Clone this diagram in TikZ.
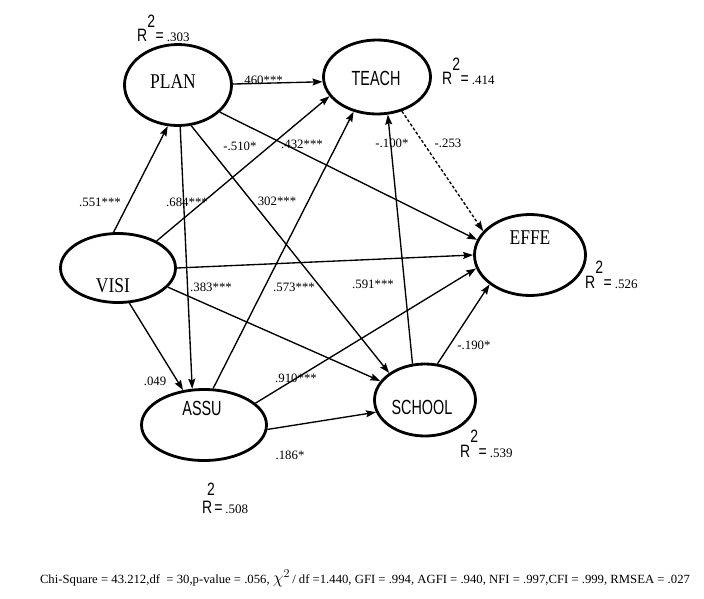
\documentclass[tikz,border=0pt]{standalone}
\usepackage{fontspec}
\usepackage{graphicx}
\setmainfont{Liberation Serif}
\newfontfamily\arialfont{Liberation Sans}
\usetikzlibrary{shapes.geometric,arrows.meta}
\newcommand{\sertext}[1]{\scalebox{1}[1.2]{\fontsize{17.5}{17.5}\selectfont #1}}
\newcommand{\santext}[1]{\scalebox{0.9}[1.28]{\arialfont\fontsize{16}{16}\selectfont #1}}
\newcommand{\myrsq}[1]{\scalebox{1}[1.28]{\arialfont\fontsize{14}{14}\selectfont R\raisebox{11.5pt}{2}\kern0.5pt=}\kern3pt{\fontsize{13}{14}\selectfont #1}}
\tikzset{
  lat/.style={ellipse, draw, line width=2.8pt, inner sep=0pt},
  edge/.style={line width=1.35pt, -{Stealth[length=10pt,width=7pt,inset=1.5pt]}},
  dashedge/.style={edge, dash pattern=on 3pt off 2pt},
  elab/.style={font=\fontsize{12.8}{14}\selectfont, inner sep=0pt},
  rlab/.style={anchor=base west, inner sep=0pt},
}
\begin{document}
\begin{tikzpicture}[x=1pt,y=-1pt]
\useasboundingbox[fill=white] (0,0) rectangle (704,599);

% latent variables
\node[lat, minimum width=107pt, minimum height=81pt,
      label={[xshift=-5pt,yshift=3pt]center:\sertext{PLAN}}] (plan) at (178,85) {};
\node[lat, minimum width=107pt, minimum height=74pt,
      label={[xshift=-1pt,yshift=-1pt]center:\santext{TEACH}}] (teach) at (377,77) {};
\node[lat, minimum width=111pt, minimum height=81pt,
      label={[yshift=17pt]center:\sertext{EFFE}}] (effe) at (530,255) {};
\node[lat, minimum width=115pt, minimum height=69pt,
      label={[xshift=-5pt,yshift=-18pt]center:\sertext{VISI}}] (visi) at (118,268) {};
\node[lat, minimum width=125pt, minimum height=71pt,
      label={[xshift=-2pt,yshift=17pt]center:\santext{ASSU}}] (assu) at (204,425) {};
\node[lat, minimum width=101pt, minimum height=72pt,
      label={[xshift=-3pt,yshift=-7pt]center:\santext{SCHOOL}}] (school) at (425,400) {};

% paths
\draw[edge] (visi.97) -- (plan.256);
\draw[edge] (plan.1) -- (teach.185);
\draw[edge] (plan.273) -- (assu.108);
\draw[edge] (visi.35) -- (teach.202);
\draw[edge] (plan.327.5) -- (effe.164);
\draw[edge] (plan.288) -- (school.143);
\draw[edge] (visi.0) -- (effe.180);
\draw[edge] (visi.339) -- (school.157);
\draw[edge] (visi.288) -- (assu.121);
\draw[edge] (assu.76) -- (teach.236);
\draw[edge] (assu.23.5) -- (effe.194);
\draw[edge] (assu.356) -- (school.194);
\draw[edge] (school.109) -- (teach.286);
\draw[edge] (school.71) -- (effe.216);
\draw[dashedge] (teach.306) -- (effe.153);

% coefficients
\node[elab] (l1) at (100,202) {.551***};
\node[elab] (l2) at (262,80) {.460***};
\node[elab] (l3) at (240,146) {-.510*};
\node[elab] (l4) at (302,144) {.432***};
\node[elab] (l5) at (187,202) {.684***};
\node[elab] (l6) at (277,201) {302***};
\node[elab] (l7) at (211,287) {.383***};
\node[elab] (l8) at (294,287) {.573***};
\node[elab] (l9) at (373,284) {.591***};
\node[elab] (l10) at (155,381) {.049};
\node[elab] (l11) at (296,378) {.910***};
\node[elab] (l12) at (290,455) {.186*};
\node[elab] (l13) at (392,143) {-.100*};
\node[elab] (l14) at (448,143) {-.253};
\node[elab] (l15) at (474,345) {-.190*};

% R squared
\node[rlab] (rplan) at (137,42) {\myrsq{.303}};
\node[rlab] (rteach) at (442,85) {\myrsq{.414}};
\node[rlab] (reffe) at (585,288) {\myrsq{.526}};
\node[rlab] (rschool) at (460,457) {\myrsq{.539}};
\node[rlab] (rassu) at (202,513) {\scalebox{1}[1.28]{\arialfont\fontsize{14}{14}\selectfont\rlap{\kern5pt\raisebox{13.5pt}{2}}R\kern2pt=}\kern3pt{\fontsize{13}{14}\selectfont .508}};

% fit indices
\node[inner sep=0pt] (fit) at (365,578) {\resizebox{650pt}{\height}{\fontsize{12.5}{14}\selectfont Chi-Square = 43.212,df\ \ = 30,p-value = .056, {\fontsize{17}{17}\selectfont$\chi^{2}$}\,/ df =1.440, GFI = .994, AGFI = .940, NFI = .997,CFI = .999, RMSEA = .027}};
\end{tikzpicture}
\end{document}
